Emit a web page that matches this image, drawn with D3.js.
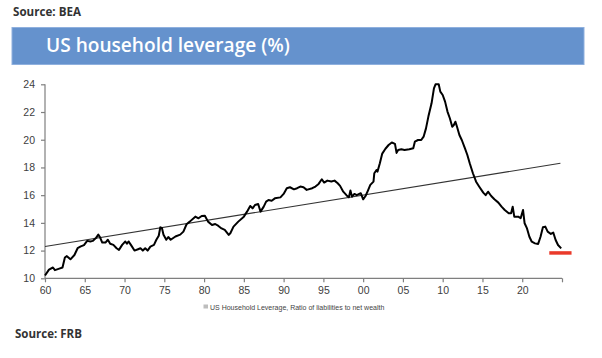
<!DOCTYPE html>
<html>
<head>
<meta charset="utf-8">
<script src="https://cdn.jsdelivr.net/npm/d3@7"></script>
<style>
  html, body { margin: 0; padding: 0; background: #ffffff; }
  svg { display: block; }
</style>
</head>
<body>
<div id="chart"></div>
<script>
// ---- Data ----
const years = [
  1960, 1960.5, 1961, 1961.25, 1961.8, 1962.2, 1962.5, 1962.75, 1963.2, 1963.7,
  1964.1, 1964.5, 1964.9, 1965.3, 1965.7, 1966, 1966.4, 1966.7, 1966.9, 1967.2,
  1967.6, 1967.9, 1968.2, 1968.6, 1969, 1969.3, 1969.7, 1970.1, 1970.3, 1970.5,
  1970.8, 1971.25, 1971.7, 1972, 1972.3, 1972.6, 1972.9, 1973.25, 1973.7, 1974,
  1974.3, 1974.5, 1974.7, 1974.9, 1975.25, 1975.5, 1975.8, 1976.4, 1977, 1977.4,
  1977.8, 1978.2, 1978.9, 1979.3, 1979.7, 1980.1, 1980.5, 1981, 1981.4, 1981.8,
  1982.2, 1982.6, 1983.1, 1983.3, 1983.7, 1984.3, 1985, 1985.4, 1985.8, 1986.1,
  1986.4, 1986.8, 1987.1, 1987.5, 1987.8, 1988.1, 1988.5, 1988.9, 1989.6, 1990,
  1990.4, 1990.8, 1991.3, 1991.7, 1992.1, 1992.5, 1992.9, 1993.6, 1994, 1994.4,
  1994.8, 1995.1, 1995.5, 1996, 1996.4, 1996.8, 1997.1, 1997.5, 1997.9, 1998.2,
  1998.4, 1998.6, 1998.9, 1999.2, 1999.7, 2000, 2000.3, 2000.6, 2000.9, 2001.3,
  2001.4, 2001.7, 2001.8, 2002.1, 2002.4, 2002.8, 2003.2, 2003.6, 2004, 2004.2,
  2004.4, 2004.8, 2005.2, 2005.8, 2006.3, 2006.5, 2006.9, 2007.3, 2007.6, 2007.9,
  2008.2, 2008.6, 2008.9, 2009.1, 2009.5, 2009.7, 2010, 2010.3, 2010.6, 2010.9,
  2011.2, 2011.4, 2011.6, 2011.8, 2012.1, 2012.4, 2012.8, 2013.1, 2013.4, 2013.8,
  2014.2, 2014.6, 2015.1, 2015.4, 2015.7, 2016.1, 2016.5, 2017, 2017.4, 2017.8,
  2018.3, 2018.6, 2018.8, 2019.0, 2019.5, 2019.8, 2020.1, 2020.3, 2020.6, 2020.9,
  2021.2, 2021.6, 2022, 2022.3, 2022.6, 2022.9, 2023.2, 2023.6, 2023.9, 2024.2,
  2024.5, 2024.9
];
const leverage = [
  10.2, 10.63, 10.78, 10.59, 10.7, 10.78, 11.5, 11.6, 11.37, 11.68,
  12.17, 12.3, 12.4, 12.7, 12.66, 12.7, 12.9, 13.15, 12.98, 12.58,
  12.58, 12.78, 12.49, 12.41, 12.17, 12.05, 12.41, 12.66, 12.49, 12.66,
  12.41, 12.0, 12.1, 12.17, 12.0, 12.17, 12.0, 12.29, 12.41, 12.78,
  13.07, 13.68, 13.63, 13.15, 12.78, 12.98, 12.78, 13.02, 13.15, 13.37,
  13.9, 14.09, 14.45, 14.33, 14.5, 14.52, 14.09, 13.85, 13.92, 13.78,
  13.6, 13.49, 13.13, 13.25, 13.73, 14.09, 14.45, 14.81, 15.22, 15.05,
  15.29, 15.36, 14.81, 15.17, 15.53, 15.65, 15.6, 15.77, 15.84, 16.09,
  16.5, 16.57, 16.42, 16.5, 16.62, 16.57, 16.38, 16.5, 16.62, 16.81,
  17.15, 16.91, 17.05, 16.98, 17.05, 16.86, 16.67, 16.25, 16.0, 15.84,
  16.33, 15.89, 16.09, 16.0, 16.14, 15.7, 15.94, 16.33, 16.74, 16.98,
  17.58, 17.82, 17.7, 18.3, 19.0, 19.35, 19.62, 19.8, 19.7, 19.05,
  19.26, 19.31, 19.26, 19.31, 19.38, 19.86, 19.98, 19.98, 20.22, 20.82,
  21.67, 22.63, 23.71, 24.0, 24.0, 23.47, 23.23, 22.75, 22.03, 21.55,
  20.94, 21.06, 21.3, 20.94, 20.34, 19.98, 19.38, 18.9, 18.3, 17.58,
  16.97, 16.61, 16.18, 16.0, 16.25, 15.94, 15.7, 15.46, 15.17, 14.93,
  14.69, 14.69, 15.17, 14.45, 14.45, 14.33, 14.93, 13.97, 13.6, 13.0,
  12.64, 12.52, 12.48, 13.0, 13.68, 13.73, 13.37, 13.2, 13.3, 12.76,
  12.4, 12.16
];
const trendYears = [1960, 2024.8];
const trendValues = [12.3, 18.3];
const markerYears = [2023.4, 2026.2];
const markerValues = [11.83, 11.83];
const xTickValues = [1960, 1965, 1970, 1975, 1980, 1985, 1990, 1995, 2000, 2005, 2010, 2015, 2020, 2025];
const xTickLabels = ["60", "65", "70", "75", "80", "85", "90", "95", "00", "05", "10", "15", "20", ""];
const yTickValues = [10, 12, 14, 16, 18, 20, 22, 24];
const titleText = "US household leverage (%)";
const topSource = "Source: BEA";
const bottomSource = "Source: FRB";
const legendText = "US Household Leverage, Ratio of liabilities to net wealth";

// ---- Drawing ----
const W = 602, H = 358;
const svg = d3.select("#chart").append("svg").attr("width", W).attr("height", H);

const x = d3.scaleLinear().domain([1960, 2025]).range([45, 562]);
const y = d3.scaleLinear().domain([10, 24]).range([278.3, 84.3]);

function fitText(sel, size, width) {
  const w = sel.node().getComputedTextLength();
  if (w > 0) sel.attr("font-size", size * width / w);
}

// top source
const s1 = svg.append("text").attr("x", 13).attr("y", 15.7)
  .attr("font-family", "Open Sans, DejaVu Sans, sans-serif").attr("font-weight", 700)
  .attr("font-size", 10).attr("fill", "#333").text(topSource);
fitText(s1, 10, 68);

// title bar
svg.append("rect").attr("x", 12).attr("y", 27.5).attr("width", 572).attr("height", 37)
  .attr("fill", "#6592cd").attr("stroke", "#8fb0de").attr("stroke-width", 1);
const title = svg.append("text").attr("x", 46).attr("y", 52.3)
  .attr("font-family", "Open Sans, DejaVu Sans, sans-serif").attr("font-weight", 600)
  .attr("font-size", 18).attr("fill", "#ffffff").text(titleText);
fitText(title, 18, 244);

// axes
const axisColor = "#7f7f7f";
const gy = svg.append("g").attr("transform", `translate(${x(1960)},0)`)
  .call(d3.axisLeft(y).tickValues(yTickValues).tickSize(4).tickPadding(6).tickFormat(d3.format("d")));
const gx = svg.append("g").attr("transform", `translate(0,${y(10)})`)
  .call(d3.axisBottom(x).tickValues(xTickValues).tickSize(4).tickPadding(4)
    .tickFormat((d, i) => xTickLabels[i]));
[gx, gy].forEach(g => {
  g.select(".domain").attr("stroke", axisColor).attr("stroke-width", 1.2);
  g.selectAll(".tick line").attr("stroke", axisColor).attr("stroke-width", 1.2);
  g.selectAll(".tick text").attr("font-family", "Liberation Sans, Arial, sans-serif")
    .attr("font-size", 10.5).attr("fill", "#404040");
});
gy.select(".domain").attr("d", `M0,${y(24)}V${y(10)}`);
gx.select(".domain").attr("d", `M${x(1960)},0H${x(2025)}`);

// trend line
const line = d3.line().x(d => x(d[0])).y(d => y(d[1]));
svg.append("path").datum(d3.zip(trendYears, trendValues))
  .attr("d", line).attr("fill", "none").attr("stroke", "#333").attr("stroke-width", 1.1);

// main series
svg.append("path").datum(d3.zip(years, leverage))
  .attr("d", line).attr("fill", "none").attr("stroke", "#000").attr("stroke-width", 2)
  .attr("stroke-linejoin", "round");

// red marker
svg.append("path").datum(d3.zip(markerYears, markerValues))
  .attr("d", line).attr("fill", "none").attr("stroke", "#ea3a2a").attr("stroke-width", 3.5);

// legend
const lg = svg.append("g");
lg.append("rect").attr("x", 203.5).attr("y", 304.5).attr("width", 4.5).attr("height", 4)
  .attr("fill", "#bdbdbd");
lg.append("text").attr("x", 210).attr("y", 309.5)
  .attr("font-family", "Liberation Sans, Arial, sans-serif").attr("font-size", 7)
  .attr("fill", "#444").text(legendText);

// bottom source
const s2 = svg.append("text").attr("x", 15).attr("y", 337.7)
  .attr("font-family", "Open Sans, DejaVu Sans, sans-serif").attr("font-weight", 700)
  .attr("font-size", 10.5).attr("fill", "#333").text(bottomSource);
fitText(s2, 10.5, 67);
</script>
</body>
</html>
